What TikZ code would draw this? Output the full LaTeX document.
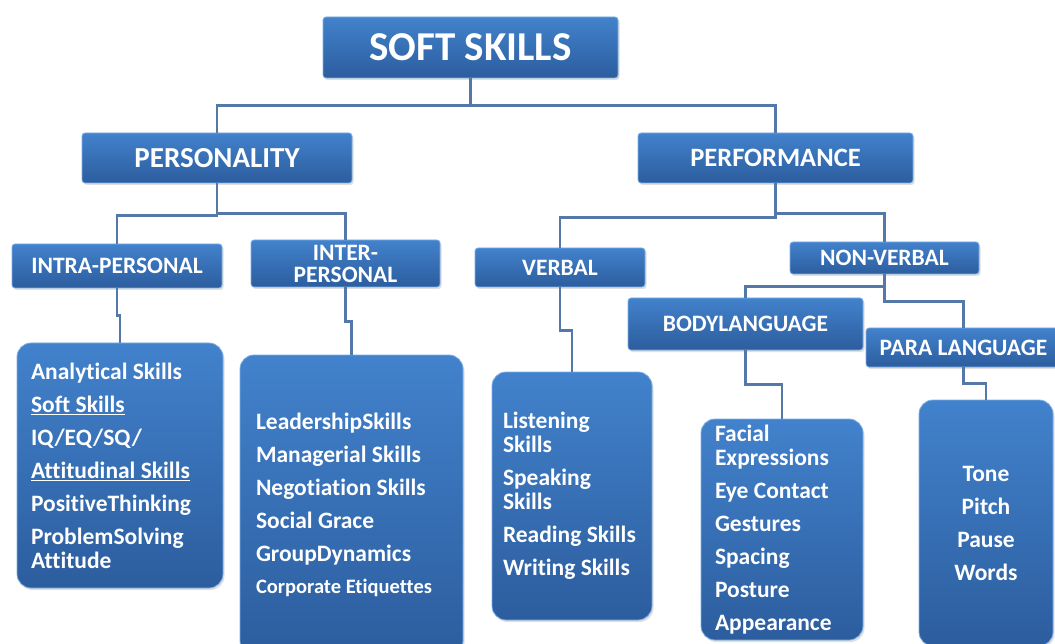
\documentclass[tikz,border=0pt]{standalone}
\usepackage{fontspec}
\setmainfont{Carlito}[Ligatures=NoCommon]
\usetikzlibrary{shadows}

\definecolor{boxtop}{RGB}{66,130,204}
\definecolor{boxbot}{RGB}{44,93,158}
\definecolor{boxrim}{RGB}{125,175,232}
\definecolor{linkcol}{RGB}{84,120,168}

\tikzset{
  skillbox/.style={rounded corners=3pt, top color=boxtop, bottom color=boxbot,
    draw=boxrim, line width=0.8pt, text=white, inner sep=0pt, align=center,
    font=\bfseries\fontsize{23.5}{22}\selectfont,
    drop shadow={opacity=0.25, shadow xshift=1.5pt, shadow yshift=-2pt}},
  listbox/.style={skillbox, rounded corners=14pt, align=flush left, inner xsep=14pt,
    font=\bfseries\fontsize{23.5}{24}\selectfont,
    execute at begin node={\spaceskip=0pt\xspaceskip=0pt}},
  link/.style={draw=linkcol, line width=2.6pt},
}

\begin{document}
\begin{tikzpicture}[x=1pt, y=-1pt]
\clip (0,0) rectangle (1055,644);

% top levels
\node[skillbox, minimum width=295pt, minimum height=61pt, font=\bfseries\fontsize{41}{44}\selectfont] (soft) at (470.5,47.5) {SOFT SKILLS};
\node[skillbox, minimum width=270pt, minimum height=50pt, font=\bfseries\fontsize{29}{30}\selectfont] (pers) at (217,158) {PERSONALITY};
\node[skillbox, minimum width=275pt, minimum height=50pt, font=\bfseries\fontsize{26.5}{30}\selectfont] (perf) at (775.5,158) {PERFORMANCE};

\node[skillbox, minimum width=210pt, minimum height=44pt] (intra) at (117,266) {INTRA-PERSONAL};
\node[skillbox, minimum width=189pt, minimum height=47pt] (inter) at (345.5,263.5) {INTER-\\PERSONAL};
\node[skillbox, minimum width=170pt, minimum height=39pt] (verbal) at (560,267.5) {VERBAL};
\node[skillbox, minimum width=189pt, minimum height=32pt] (nonverbal) at (884.5,258) {NON-VERBAL};
\node[skillbox, minimum width=235pt, minimum height=52pt] (body) at (745.5,324) {BODYLANGUAGE};
\node[skillbox, minimum width=195pt, minimum height=39pt] (para) at (963.5,347.5) {PARA LANGUAGE};

% lists
\node[listbox, text width=178pt, minimum height=245pt] (ilist) at (120,465.5)
  {Analytical Skills\\[9pt] \underline{Soft Skills}\\[9pt] IQ/EQ/SQ/\\[9pt] \underline{Attitudinal Skills}\\[9pt] PositiveThinking\\[9pt] ProblemSolving\\Attitude};
\node[listbox, text width=191pt, inner xsep=16pt, minimum height=300pt] (rlist) at (351.5,505)
  {LeadershipSkills\\[9pt] Managerial Skills\\[9pt] Negotiation Skills\\[9pt] Social Grace\\[9pt] GroupDynamics\\[8pt] {\fontsize{20.5}{20}\selectfont Corporate Etiquettes}};
\node[listbox, text width=138pt, inner xsep=11pt, minimum height=248pt] (vlist) at (572,496)
  {Listening\\Skills\\[9pt] Speaking\\Skills\\[9pt] Reading Skills\\[9pt] Writing Skills};
\node[listbox, text width=134pt, minimum height=221pt] (blist) at (782,529.5)
  {Facial\\Expressions\\[9pt] Eye Contact\\[9pt] Gestures\\[9pt] Spacing\\[9pt] Posture\\[9pt] Appearance};
\node[listbox, text width=106pt, align=center, minimum height=246pt] (plist) at (986,523)
  {Tone\\[9pt] Pitch\\[9pt] Pause\\[9pt] Words};

% connectors
\draw[link] (soft.south) -- ++(0,27) -| (pers.north);
\draw[link] (soft.south) -- ++(0,27) -| (perf.north);
\draw[link] (pers.south) -- ++(0,32) -| (intra.north);
\draw[link] (pers.south) -- ++(0,30) -| (inter.north);
\draw[link] (perf.south) -- ++(0,34) -| (verbal.north);
\draw[link] (perf.south) -- ++(0,30) -| (nonverbal.north);
\draw[link] (nonverbal.south) -- ++(0,12) -| (body.north);
\draw[link] (nonverbal.south) -- ++(0,27) -| (para.north);
\draw[link] (intra.south) -- ++(0,27) -| (ilist.north);
\draw[link] (inter.south) -- ++(0,34) -| (rlist.north);
\draw[link] (verbal.south) -- ++(0,43) -| (vlist.north);
\draw[link] (body.south) -- ++(0,34) -| (blist.north);
\draw[link] (para.south) -- ++(0,16) -| (plist.north);
\end{tikzpicture}
\end{document}
